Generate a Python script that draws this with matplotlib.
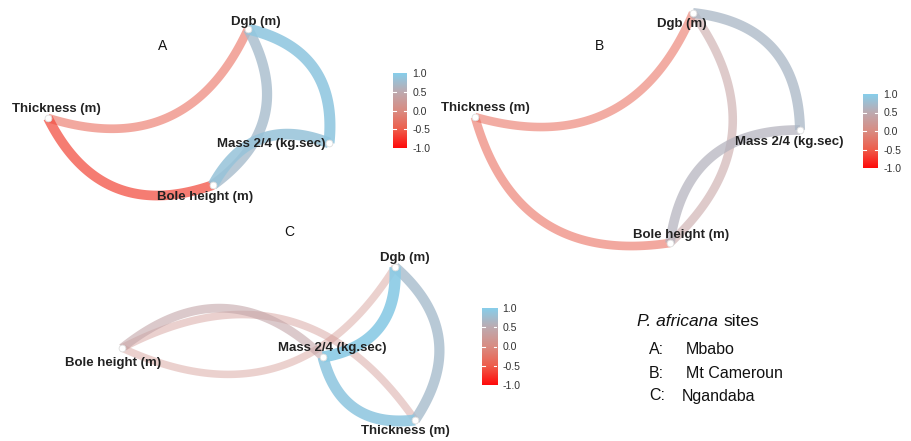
import matplotlib
matplotlib.use("Agg")
import matplotlib.pyplot as plt
import numpy as np
from matplotlib.colors import LinearSegmentedColormap, Normalize

plt.rcParams['font.family'] = ['Liberation Sans', 'DejaVu Sans']

W, H = 912, 441

# node names (same order in every panel)
var_names = ["Dgb (m)", "Thickness (m)", "Mass 2/4 (kg.sec)", "Bole height (m)"]

# panel A - Mbabo : layout positions (local units) and label anchors
a_x = [248, 48, 329, 213]
a_y = [29, 118, 143, 185]
a_lx = [256, 56, 271, 205]
a_ly = [22, 109, 144, 197]
a_from = [1, 1, 2, 3, 2]
a_to = [0, 3, 0, 0, 3]
a_r = [-0.38, -0.62, 0.9, 0.72, 0.85]

# panel B - Mt Cameroun
b_x = [263, 45, 370, 240]
b_y = [13, 117, 130, 243]
b_lx = [252, 55, 359, 251]
b_ly = [24, 108, 142, 235]
b_from = [1, 1, 2, 3, 2]
b_to = [0, 3, 0, 0, 3]
b_r = [-0.35, -0.38, 0.68, 0.35, 0.6]

# panel C - Ngandaba
c_x = [355, 375, 283, 82]
c_y = [37, 190, 127, 118]
c_lx = [365, 365, 292, 73]
c_ly = [28, 201, 118, 133]
c_from = [2, 1, 2, 2, 1, 3]
c_to = [0, 0, 1, 3, 3, 0]
c_r = [0.95, 0.72, 0.9, 0.4, 0.15, 0.12]

bar_ticks = [1, 0.5, 0, -0.5, -1]
bar_labels = ["1.0", "0.5", "0.0", "-0.5", "-1.0"]

cmap = LinearSegmentedColormap.from_list(
    "corr", [(0.0, "#FF0A0A"), (0.25, "#EE5E4C"), (0.5, "#D98C82"),
             (0.75, "#BDAAB0"), (1.0, "#87CEEB")])
norm = Normalize(-1, 1)

fig = plt.figure(figsize=(W / 100, H / 100), dpi=100)


def panel_axes(x0, y0, w, h):
    ax = fig.add_axes([x0 / W, 1 - (y0 + h) / H, w / W, h / H])
    ax.set_xlim(0, w)
    ax.set_ylim(h, 0)
    ax.axis('off')
    return ax


def curve(p0, p1, s=0.22, n=80):
    p0 = np.asarray(p0, float)
    p1 = np.asarray(p1, float)
    d = p1 - p0
    L = np.hypot(*d)
    perp = np.array([-d[1], d[0]]) / L
    ctrl = (p0 + p1) / 2 + perp * 2 * s * L
    t = np.linspace(0, 1, n)[:, None]
    pts = (1 - t) ** 2 * p0 + 2 * (1 - t) * t * ctrl + t ** 2 * p1
    return pts[:, 0], pts[:, 1]


def draw_network(ax, xs, ys, lxs, lys, frm, to, rs):
    order = np.argsort(np.abs(rs))
    for i in order:
        r = rs[i]
        cx, cy = curve((xs[frm[i]], ys[frm[i]]), (xs[to[i]], ys[to[i]]))
        ax.plot(cx, cy, color=cmap(norm(r)), alpha=0.35 + 0.6 * abs(r),
                lw=(7 + 4.5 * abs(r)) * 0.72, solid_capstyle='butt',
                clip_on=False)
    ax.scatter(xs, ys, s=24, color='white', edgecolor='#dddddd', lw=0.6,
               zorder=5, clip_on=False)
    for name, lx, ly in zip(var_names, lxs, lys):
        ax.text(lx, ly, name, ha='center', va='center', fontsize=9.5,
                fontweight='bold', color='#222222', zorder=6)


def add_bar(x0, y0, w, h):
    cax = fig.add_axes([x0 / W, 1 - (y0 + h) / H, w / W, h / H])
    grad = np.linspace(1, -1, 256)[:, None]
    cax.imshow(grad, aspect='auto', cmap=cmap, norm=norm,
               extent=[0, 1, -1, 1], interpolation='bilinear')
    cax.set_xlim(0, 1)
    cax.set_ylim(-1, 1)
    cax.set_xticks([])
    cax.yaxis.tick_right()
    cax.set_yticks(bar_ticks)
    cax.set_yticklabels(bar_labels)
    cax.tick_params(length=0, labelsize=7.6, labelcolor='#333333', pad=4)
    for sp in cax.spines.values():
        sp.set_visible(False)
    for v in bar_ticks[1:-1]:
        cax.plot([0, 0.2], [v, v], color='white', lw=0.8)
        cax.plot([0.8, 1], [v, v], color='white', lw=0.8)
    return cax


axA = panel_axes(0, 0, 360, 215)
draw_network(axA, a_x, a_y, a_lx, a_ly, a_from, a_to, a_r)
axA.text(163, 46, "A", ha='center', va='center', fontsize=10, color='#111111')

axB = panel_axes(430, 0, 430, 260)
draw_network(axB, b_x, b_y, b_lx, b_ly, b_from, b_to, b_r)
axB.text(170, 46, "B", ha='center', va='center', fontsize=10, color='#111111')

axC = panel_axes(40, 230, 440, 211)
draw_network(axC, c_x, c_y, c_lx, c_ly, c_from, c_to, c_r)
axC.text(249, 2, "C", ha='center', va='center', fontsize=10, color='#111111')

add_bar(393, 73, 14, 75)
add_bar(863, 94, 15, 74)
add_bar(482, 308, 15, 77)

# site legend
fig.text(637 / W, 1 - 322 / H, "P. africana", ha='left', va='center',
         fontsize=12.5, style='italic', color='#111111')
fig.text(723 / W, 1 - 322 / H, "sites", ha='left', va='center',
         fontsize=12.5, color='#111111')
site_keys = ["A:", "B:", "C:"]
site_names = ["Mbabo", "Mt Cameroun", "Ngandaba"]
site_offsets = [686, 686, 682]
for i, (k, nm, xo) in enumerate(zip(site_keys, site_names, site_offsets)):
    yy = 350 + 23 * i
    fig.text(649 / W, 1 - yy / H, k, ha='left', va='center', fontsize=11.5,
             color='#111111')
    fig.text(xo / W, 1 - yy / H, nm, ha='left', va='center', fontsize=11.5,
             color='#111111')

fig.savefig("out.png", dpi=100, facecolor='white')
